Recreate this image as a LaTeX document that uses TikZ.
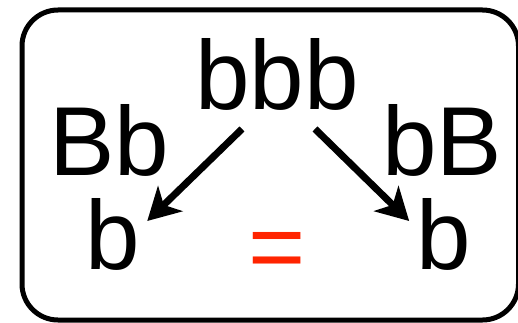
\documentclass[tikz,border=0pt]{standalone}
\usepackage{fontspec}
\setmainfont{Liberation Sans}
\usetikzlibrary{arrows.meta}
\definecolor{eqred}{RGB}{255,36,0}
\tikzset{
  big/.style={inner sep=0pt, outer sep=0pt, anchor=base, font=\fontsize{98pt}{98pt}\selectfont},
  frame/.style={draw=black, line width=5pt, rounded corners=36pt},
  conn/.style={line width=7pt, -{Stealth[length=32pt,width=35pt,inset=9pt]}}
}
\begin{document}
\begin{tikzpicture}[x=1pt,y=1pt]
\useasboundingbox (0,0) rectangle (518,322);
\draw[frame] (22,2) rectangle (518.5,312);
\node[big] (top) at (277,213) {bbb};
\node[big] (lab1) at (109,147) {Bb};
\node[big] (lab2) at (442,147) {bB};
\node[big] (lb) at (113,53) {b};
\node[big] (rb) at (444,53) {b};
\node[big, text=eqred] (eq) at (277,42) {=};
\coordinate (s1) at ([xshift=-35pt,yshift=-19pt]top.south);
\coordinate (s2) at ([xshift=38pt,yshift=-19pt]top.south);
\coordinate (e1) at ([xshift=7pt,yshift=-23pt]lb.north east);
\coordinate (e2) at ([xshift=-7.6pt,yshift=-23pt]rb.north west);
\draw[conn] (s1) -- (e1);
\draw[conn] (s2) -- (e2);
\end{tikzpicture}
\end{document}
